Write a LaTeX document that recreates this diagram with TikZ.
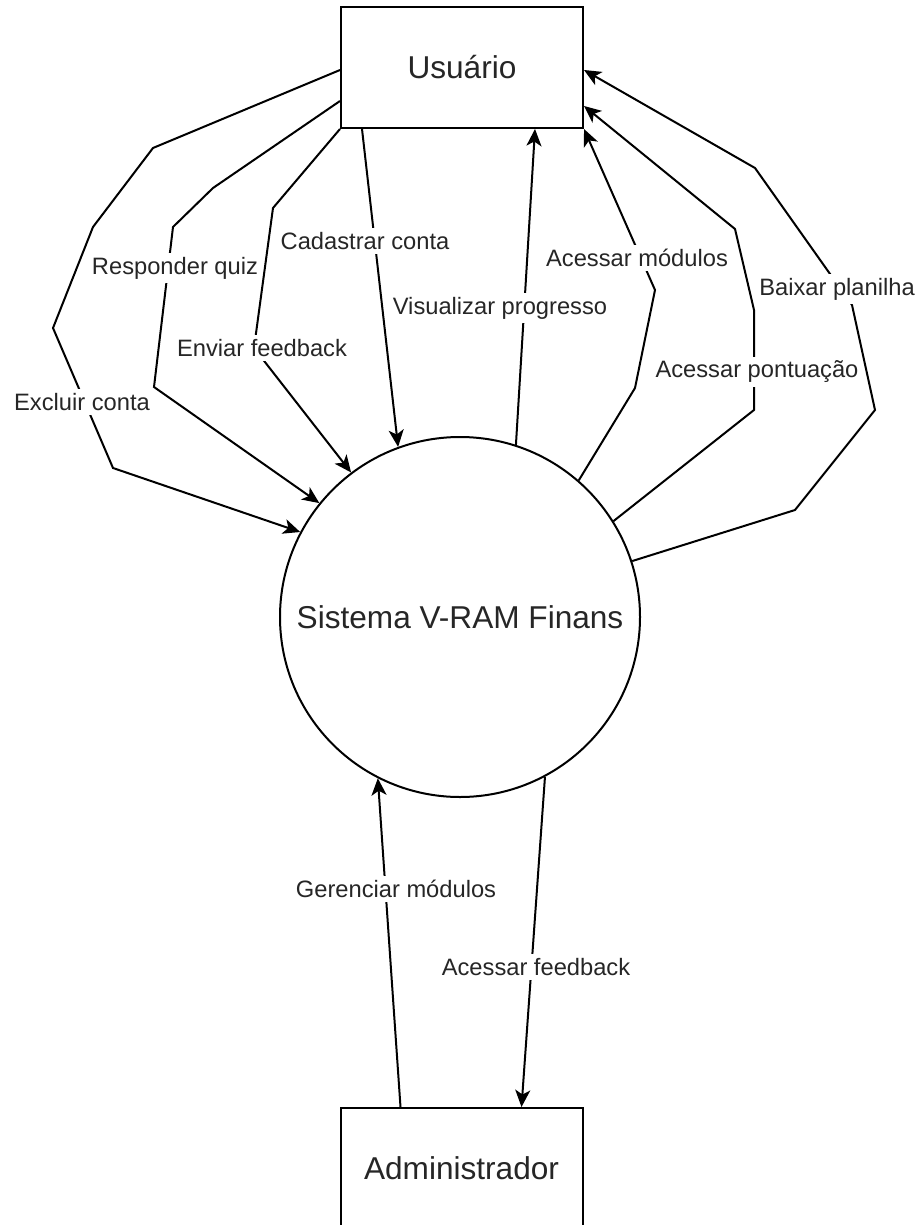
\documentclass[tikz,border=0pt]{standalone}
\usepackage{fontspec}
\setmainfont{Liberation Sans}
\usetikzlibrary{arrows.meta}
\begin{document}
\begin{tikzpicture}[x=1pt,y=-1pt,
  entity/.style={draw=black, line width=2pt, rectangle, minimum width=242pt, minimum height=121pt, inner sep=0pt, font=\fontsize{31.6}{36}\selectfont, text=black!85},
  proc/.style={draw=black, line width=2pt, circle, minimum size=360pt, inner sep=0pt, font=\fontsize{31.6}{36}\selectfont, text=black!85},
  flow/.style={draw=black, line width=2pt, -{Stealth[length=17pt,width=15pt,inset=4.5pt]}},
  lbl/.style={fill=white, inner xsep=1pt, inner ysep=4pt, font=\fontsize{23.7}{27}\selectfont, text=black!85}]
\useasboundingbox (0,0) rectangle (920,1225);
\clip (0,0) rectangle (920,1225);
\fill[white] (0,0) rectangle (920,1225);

\node[entity] (user) at (462,67.5) {Usuário};
\node[proc] (sys) at (460,617) {Sistema V-RAM Finans};
\node[entity] (admin) at (461.5,1168.5) {Administrador};

% user -> system
\draw[flow] ([yshift=-2.5pt]user.west) -- (153,148) -- (93,227) -- (53,328) -- (113,468) -- (sys.152);
\draw[flow] ([yshift=-33.5pt]user.west) -- (213,188) -- (173,227) -- (154,387) -- (sys.141);
\draw[flow] (user.south west) -- (273,208) -- (254,348) -- (sys.127);
\draw[flow] ([xshift=22pt]user.south west) -- (sys.110.7);

% system -> user
\draw[flow] (sys.72) -- ([xshift=195pt]user.south west);
\draw[flow] (sys.49) -- (635,388) -- (655,290) -- (user.south east);
\draw[flow] (sys.32) -- (754,410) -- (754,310) -- (735,229) -- ([yshift=23pt]user.south east);
\draw[flow] (sys.18.8) -- (795,510) -- (875,410) -- (852,305) -- (755,168) -- ([yshift=-2.5pt]user.east);

% admin <-> system
\draw[flow] ([xshift=61pt]admin.north west) -- (sys.243);
\draw[flow] (sys.298) -- ([xshift=182pt]admin.north west);

% labels
\node[lbl] (l1) at (82,402) {Excluir conta};
\node[lbl] (l2) at (175,268) {Responder quiz};
\node[lbl] (l3) at (262,348) {Enviar feedback};
\node[lbl] (l4) at (365,241) {Cadastrar conta};
\node[lbl] (l5) at (500,308) {Visualizar progresso};
\node[lbl] (l6) at (637,258) {Acessar módulos};
\node[lbl] (l7) at (757,372) {Acessar pontuação};
\node[lbl] (l8) at (837,289) {Baixar planilha};
\node[lbl] (l9) at (396,889) {Gerenciar módulos};
\node[lbl] (l10) at (536,967) {Acessar feedback};
\end{tikzpicture}
\end{document}
